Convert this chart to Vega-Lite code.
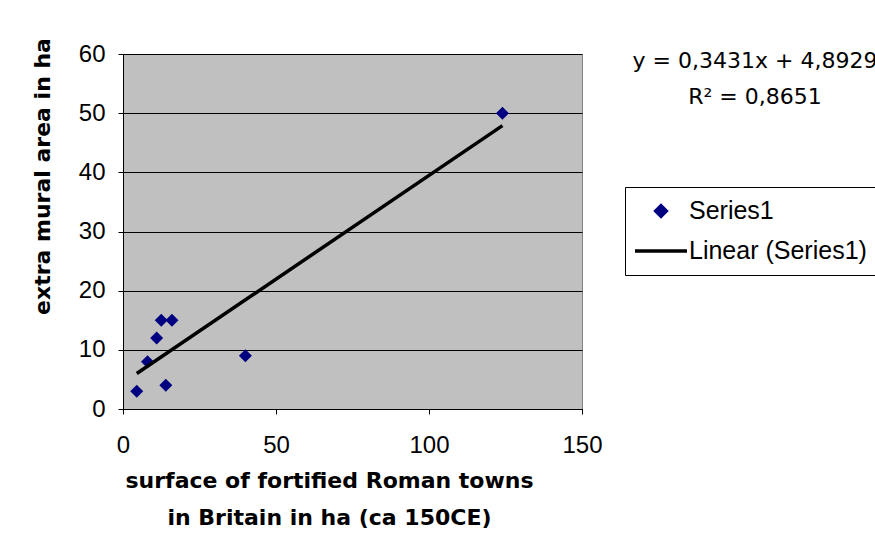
{
  "$schema": "https://vega.github.io/schema/vega-lite/v6.json",
  "width": 459,
  "height": 355,
  "autosize": {"type": "none"},
  "padding": {"left": 123, "top": 54, "right": 293, "bottom": 124},
  "background": "white",
  "data": {
    "values": [
      {"surface": 4.5, "extramural": 3},
      {"surface": 8, "extramural": 8},
      {"surface": 11, "extramural": 12},
      {"surface": 12.5, "extramural": 15},
      {"surface": 16, "extramural": 15},
      {"surface": 14, "extramural": 4},
      {"surface": 40, "extramural": 9},
      {"surface": 124, "extramural": 50}
    ]
  },
  "title": {
    "text": "y = 0,3431x + 4,8929",
    "subtitle": "R² = 0,8651",
    "anchor": "start",
    "align": "center",
    "frame": "group",
    "orient": "top",
    "dx": 632,
    "dy": 75,
    "font": "DejaVu Sans",
    "fontSize": 22,
    "fontWeight": "normal",
    "color": "black",
    "subtitleFont": "DejaVu Sans",
    "subtitleFontSize": 22,
    "subtitleColor": "black",
    "subtitlePadding": 14
  },
  "layer": [
    {
      "mark": {"type": "point", "shape": "diamond", "filled": true, "size": 169, "opacity": 1},
      "encoding": {
        "x": {
          "field": "surface",
          "type": "quantitative",
          "scale": {"domain": [0, 150], "nice": false, "zero": true},
          "axis": {
            "title": ["surface of fortified Roman towns", "in Britain in ha (ca 150CE)"],
            "values": [0, 50, 100, 150],
            "grid": false,
            "tickSize": 5,
            "tickColor": "black",
            "domainColor": "black",
            "labelFont": "Liberation Sans",
            "labelFontSize": 24,
            "labelColor": "black",
            "labelPadding": 19,
            "labelFlush": false,
            "titleFont": "DejaVu Sans",
            "titleFontWeight": "bold",
            "titleFontSize": 22,
            "titleColor": "black",
            "titleLineHeight": 37,
            "titlePadding": 13,
            "titleX": 206,
            "titleAlign": "center"
          }
        },
        "y": {
          "field": "extramural",
          "type": "quantitative",
          "scale": {"domain": [0, 60], "nice": false},
          "axis": {
            "title": "extra mural area in ha",
            "values": [0, 10, 20, 30, 40, 50, 60],
            "grid": true,
            "gridColor": "black",
            "gridWidth": 1,
            "gridOpacity": 1,
            "tickSize": 5,
            "tickColor": "black",
            "domainColor": "black",
            "labelFont": "Liberation Sans",
            "labelFontSize": 24,
            "labelColor": "black",
            "labelPadding": 13,
            "labelFlush": false,
            "titleFont": "DejaVu Sans",
            "titleFontWeight": "bold",
            "titleFontSize": 22,
            "titleColor": "black",
            "titleAngle": -90,
            "titleX": -81,
            "titleY": 122,
            "titleAlign": "center",
            "titleBaseline": "middle"
          }
        },
        "color": {
          "datum": "Series1",
          "scale": {"domain": ["Series1", "Linear (Series1)"], "range": ["#000080", "#000000"]},
          "legend": {
            "title": null,
            "orient": "none",
            "legendX": 502,
            "legendY": 133,
            "strokeColor": "black",
            "fillColor": "white",
            "padding": 8,
            "labelFont": "Liberation Sans",
            "labelFontSize": 25,
            "labelColor": "black",
            "labelOffset": 0,
            "labelLimit": 500,
            "symbolSize": 2704,
            "clipHeight": 32,
            "rowPadding": 8,
            "symbolStrokeWidth": 3.5,
            "encoding": {
              "symbols": {
                "shape": {"value": {"expr": "datum.value == 'Series1' ? 'diamond' : 'stroke'"}},
                "size": {"value": {"expr": "datum.value == 'Series1' ? 110 : 2704"}},
                "fill": {"value": {"expr": "datum.value == 'Series1' ? '#000080' : 'transparent'"}},
                "stroke": {"value": {"expr": "datum.value == 'Series1' ? 'transparent' : '#000000'"}},
                "strokeWidth": {"value": 3.5},
                "opacity": {"value": 1}
              }
            }
          }
        }
      }
    },
    {
      "transform": [{"regression": "extramural", "on": "surface"}],
      "mark": {"type": "line", "strokeWidth": 3.5},
      "encoding": {
        "x": {"field": "surface", "type": "quantitative"},
        "y": {"field": "extramural", "type": "quantitative"},
        "color": {"datum": "Linear (Series1)"}
      }
    }
  ],
  "config": {
    "view": {"stroke": "#808080", "fill": "#C0C0C0"},
    "font": "Liberation Sans"
  }
}
